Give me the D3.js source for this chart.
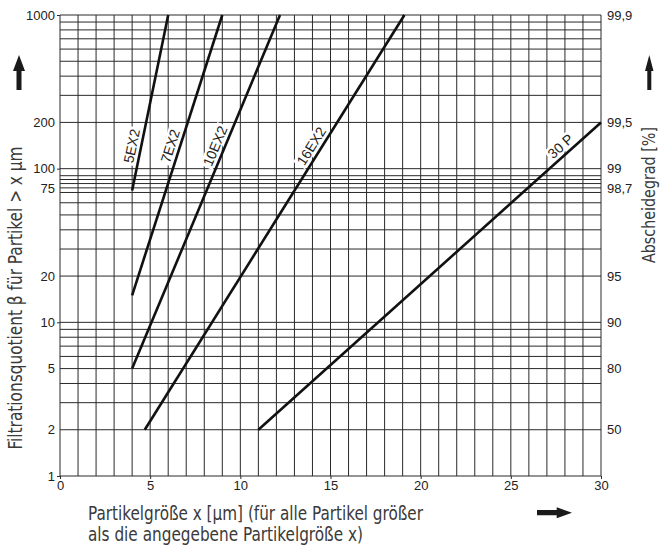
<!DOCTYPE html>
<html>
<head>
<meta charset="utf-8">
<script src="https://cdn.jsdelivr.net/npm/d3@7"></script>
<style>
  body { margin: 0; background: #fff; }
  .tick text { font-family: "Liberation Sans", Arial, sans-serif; font-size: 13px; fill: #222; }
  .lbl { font-family: "Liberation Sans Narrow", "DejaVu Sans Condensed", sans-serif; font-size: 19px; fill: #3a3a3a; }
  .serieslbl { font-family: "Liberation Sans", Arial, sans-serif; font-size: 14px; fill: #222; }
</style>
</head>
<body>
<div id="chart"></div>
<script>
// Chart values
const xTicks = [0, 5, 10, 15, 20, 25, 30];
const betaTicks = [1, 2, 5, 10, 20, 75, 100, 200, 1000];
const betaTickMarks = [1, 10, 100, 1000];
const gradBeta = [2, 5, 10, 20, 75, 100, 200, 1000];
const gradLabels = ["50", "80", "90", "95", "98,7", "99", "99,5", "99,9"];
const gridBeta = [1, 2, 3, 4, 5, 6, 7, 8, 9, 10, 20, 30, 40, 50, 60, 70, 75, 80, 85, 90, 100,
                  200, 300, 400, 500, 600, 700, 800, 900, 1000];

// filter series: straight lines in the semi-log plot
const filters = ["5EX2", "7EX2", "10EX2", "16EX2", "30 P"];
const xStart = [4, 4, 4, 4.7, 11];
const betaStart = [72, 15, 5, 2, 2];
const xEnd = [6, 9, 12.2, 19.1, 30];
const betaEnd = [1000, 1000, 1000, 1000, 200];

const width = 660, height = 546;

const svg = d3.select("#chart")
  .append("svg")
    .attr("width", width)
    .attr("height", height);

// scales
const x = d3.scaleLinear()
  .domain([0, 30])
  .range([60, 601]);

const y = d3.scaleLog()
  .domain([1, 1000])
  .range([476, 15]);

// vertical grid, one line per µm
svg.append("g")
  .selectAll("line")
  .data(d3.range(0, 31))
  .join("line")
    .attr("x1", d => x(d))
    .attr("x2", d => x(d))
    .attr("y1", y(1))
    .attr("y2", y(1000))
    .attr("stroke", "#2a2a2a")
    .attr("stroke-width", 1);

// horizontal grid
svg.append("g")
  .selectAll("line")
  .data(gridBeta)
  .join("line")
    .attr("x1", x(0))
    .attr("x2", x(30))
    .attr("y1", d => y(d))
    .attr("y2", d => y(d))
    .attr("stroke", "#2a2a2a")
    .attr("stroke-width", 1);

// left axis labels
const yAxis = svg.append("g")
  .attr("transform", `translate(${x(0)},0)`)
  .call(d3.axisLeft(y).tickValues(betaTicks).tickSize(0).tickPadding(5).tickFormat(d3.format("d")));
yAxis.select(".domain").remove();

// small left ticks at the decades
const yTickMarks = svg.append("g")
  .attr("transform", `translate(${x(0)},0)`)
  .call(d3.axisLeft(y).tickValues(betaTickMarks).tickSize(3).tickFormat(""));
yTickMarks.select(".domain").remove();
yTickMarks.selectAll("line").attr("stroke", "#2a2a2a");

// right axis: Abscheidegrad
const yRight = svg.append("g")
  .attr("transform", `translate(${x(30)},0)`)
  .call(d3.axisRight(y).tickValues(gradBeta).tickSize(0).tickPadding(6)
    .tickFormat(d => gradLabels[gradBeta.indexOf(d)]));
yRight.select(".domain").remove();

// bottom axis
const xAxis = svg.append("g")
  .attr("transform", `translate(0,${y(1)})`)
  .call(d3.axisBottom(x).tickValues(xTicks).tickSize(3).tickPadding(2));
xAxis.select(".domain").remove();
xAxis.selectAll("line").attr("stroke", "#2a2a2a");

// filter lines
const series = filters.map((f, i) => ({
  name: f,
  x1: x(xStart[i]), y1: y(betaStart[i]),
  x2: x(xEnd[i]), y2: y(betaEnd[i])
}));

svg.append("g")
  .selectAll("line")
  .data(series)
  .join("line")
    .attr("x1", d => d.x1)
    .attr("y1", d => d.y1)
    .attr("x2", d => d.x2)
    .attr("y2", d => d.y2)
    .attr("stroke", "#111")
    .attr("stroke-width", 2.6);

// series labels, rotated along the line, with white knockout
const labelY = 146;
const labelG = svg.append("g")
  .selectAll("g")
  .data(series)
  .join("g")
    .attr("transform", d => {
      const t = (labelY - d.y1) / (d.y2 - d.y1);
      const xl = d.x1 + t * (d.x2 - d.x1);
      const ang = Math.atan2(d.y1 - d.y2, d.x2 - d.x1);
      const cx = xl - 9.5 / Math.sin(ang);
      return `translate(${cx},${labelY}) rotate(${-ang * 180 / Math.PI})`;
    });

labelG.append("rect").attr("fill", "#fff");
labelG.append("text")
  .attr("class", "serieslbl")
  .attr("text-anchor", "middle")
  .attr("dy", "0.36em")
  .text(d => d.name);
labelG.each(function() {
  const g = d3.select(this);
  const w = g.select("text").node().getComputedTextLength();
  g.select("rect")
    .attr("x", -w / 2 - 2).attr("width", w + 4)
    .attr("y", -7).attr("height", 14);
});

// axis titles
svg.append("text")
  .attr("class", "lbl")
  .attr("transform", "translate(22,298) rotate(-90)")
  .attr("text-anchor", "middle")
  .attr("textLength", 303)
  .attr("lengthAdjust", "spacingAndGlyphs")
  .text("Filtrationsquotient β für Partikel > x µm");

svg.append("text")
  .attr("class", "lbl")
  .attr("transform", "translate(655,195) rotate(-90)")
  .attr("text-anchor", "middle")
  .attr("textLength", 136)
  .attr("lengthAdjust", "spacingAndGlyphs")
  .style("font-size", "18px")
  .text("Abscheidegrad  [%]");

svg.append("text")
  .attr("class", "lbl")
  .attr("x", 88).attr("y", 520)
  .attr("textLength", 335)
  .attr("lengthAdjust", "spacingAndGlyphs")
  .text("Partikelgröße x [µm] (für alle Partikel größer");

svg.append("text")
  .attr("class", "lbl")
  .attr("x", 88).attr("y", 541)
  .attr("textLength", 275)
  .attr("lengthAdjust", "spacingAndGlyphs")
  .text("als die angegebene Partikelgröße x)");

// arrows
svg.append("path")
  .attr("d", "M19,55 L25,71 L21.5,71 L21.5,90 L16.5,90 L16.5,71 L13,71 Z")
  .attr("fill", "#1a1a1a");
svg.append("path")
  .attr("d", "M649.3,55 L653.5,71 L651.3,71 L651.3,90 L647.3,90 L647.3,71 L645,71 Z")
  .attr("fill", "#1a1a1a");
svg.append("path")
  .attr("d", "M572,512.7 L556.7,507.3 L556.7,510 L537,510 L537,515.3 L556.7,515.3 L556.7,518.3 Z")
  .attr("fill", "#1a1a1a");
</script>
</body>
</html>
